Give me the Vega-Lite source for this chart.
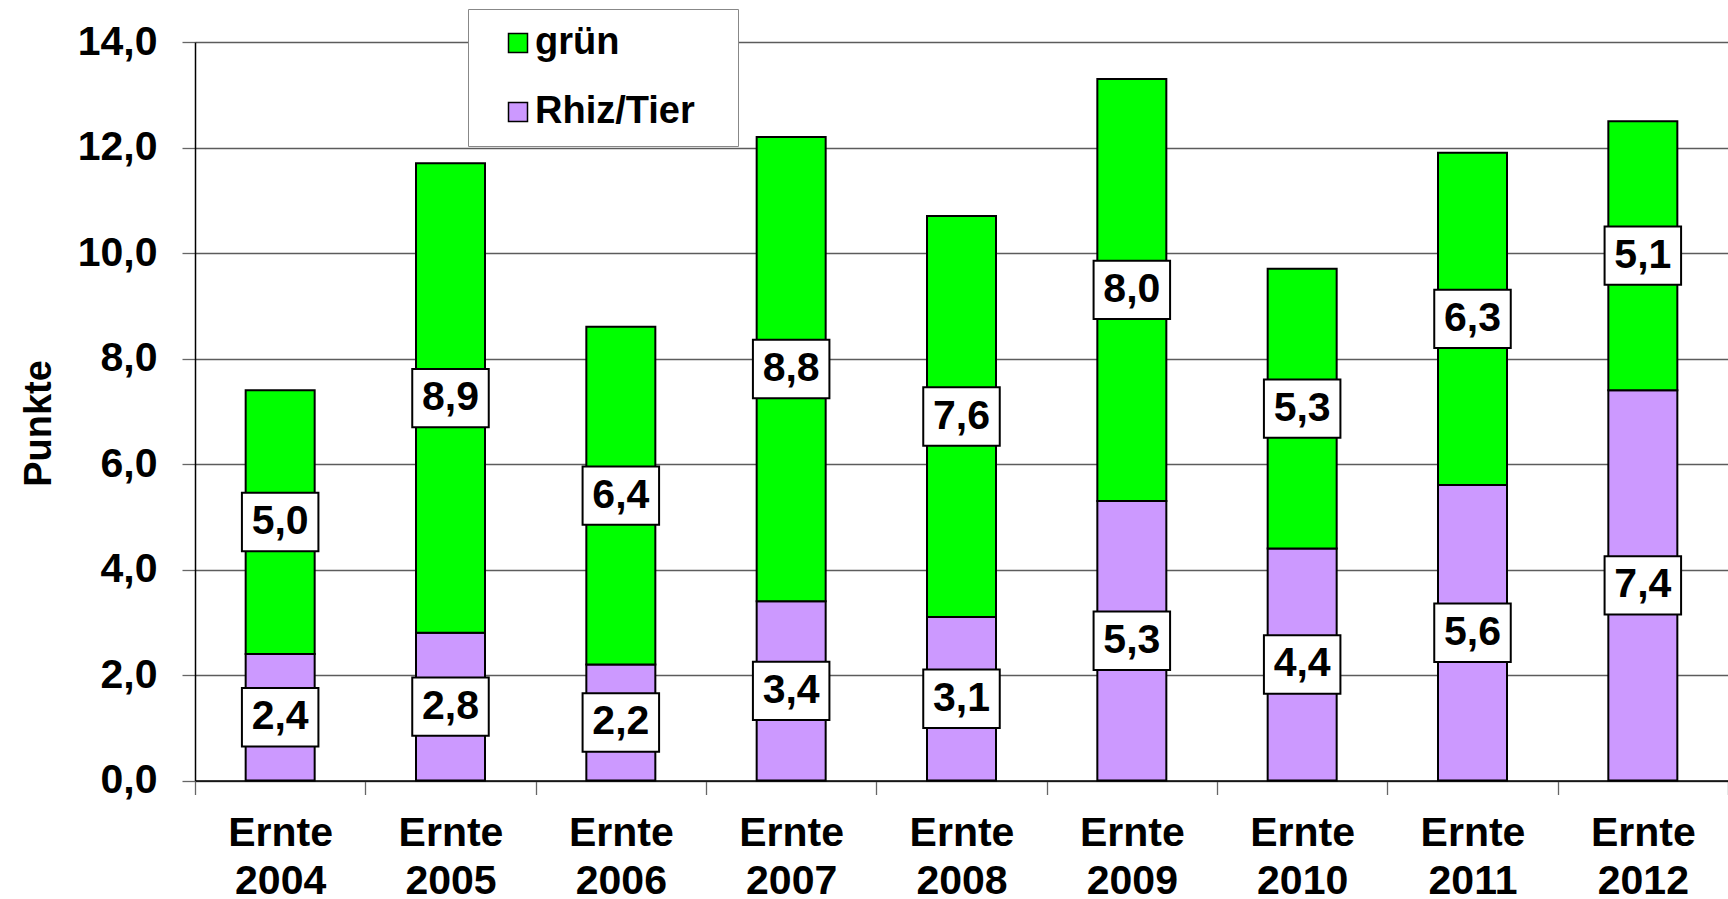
{
  "$schema": "https://vega.github.io/schema/vega-lite/v6.json",
  "width": 1533,
  "height": 738.5,
  "autosize": {"type": "none"},
  "padding": {"left": 195, "top": 42, "right": 0, "bottom": 118.5},
  "background": "white",
  "config": {
    "view": {"stroke": null},
    "font": "Liberation Sans",
    "locale": {"number": {"decimal": ",", "thousands": ".", "grouping": [3], "currency": ["", " €"]}}
  },
  "data": {
    "values": [
      {"year": "Ernte 2004", "series": "Rhiz/Tier", "value": 2.4},
      {"year": "Ernte 2004", "series": "grün", "value": 5.0},
      {"year": "Ernte 2005", "series": "Rhiz/Tier", "value": 2.8},
      {"year": "Ernte 2005", "series": "grün", "value": 8.9},
      {"year": "Ernte 2006", "series": "Rhiz/Tier", "value": 2.2},
      {"year": "Ernte 2006", "series": "grün", "value": 6.4},
      {"year": "Ernte 2007", "series": "Rhiz/Tier", "value": 3.4},
      {"year": "Ernte 2007", "series": "grün", "value": 8.8},
      {"year": "Ernte 2008", "series": "Rhiz/Tier", "value": 3.1},
      {"year": "Ernte 2008", "series": "grün", "value": 7.6},
      {"year": "Ernte 2009", "series": "Rhiz/Tier", "value": 5.3},
      {"year": "Ernte 2009", "series": "grün", "value": 8.0},
      {"year": "Ernte 2010", "series": "Rhiz/Tier", "value": 4.4},
      {"year": "Ernte 2010", "series": "grün", "value": 5.3},
      {"year": "Ernte 2011", "series": "Rhiz/Tier", "value": 5.6},
      {"year": "Ernte 2011", "series": "grün", "value": 6.3},
      {"year": "Ernte 2012", "series": "Rhiz/Tier", "value": 7.4},
      {"year": "Ernte 2012", "series": "grün", "value": 5.1}
    ]
  },
  "transform": [
    {"stack": "value", "groupby": ["year"], "sort": [{"field": "series", "order": "ascending"}], "as": ["y0", "y1"]}
  ],
  "encoding": {
    "x": {
      "field": "year",
      "type": "nominal",
      "sort": null,
      "scale": {"paddingInner": 0, "paddingOuter": 0},
      "axis": {
        "title": null,
        "labelExpr": "split(datum.label, ' ')",
        "labelAngle": 0,
        "tickBand": "extent",
        "tickSize": 14,
        "tickColor": "#666666",
        "tickWidth": 1.3,
        "domainColor": "black",
        "domainWidth": 1.5,
        "labelFontSize": 41,
        "labelFontWeight": "bold",
        "labelColor": "black",
        "labelLineHeight": 48,
        "labelPadding": 19,
        "labelBaseline": "top"
      }
    }
  },
  "layer": [
    {
      "mark": {"type": "bar", "width": 69, "stroke": "black", "strokeWidth": 2},
      "encoding": {
        "y": {
          "field": "y0",
          "type": "quantitative",
          "scale": {"domain": [0, 14]},
          "axis": {
            "title": "Punkte",
            "values": [0, 2, 4, 6, 8, 10, 12, 14],
            "format": ".1f",
            "grid": true,
            "gridColor": "#5c5c5c",
            "gridWidth": 1.3,
            "domainColor": "black",
            "domainWidth": 1.5,
            "tickColor": "#666666",
            "tickWidth": 1.3,
            "tickSize": 13,
            "labelFontSize": 41,
            "labelFontWeight": "bold",
            "labelColor": "black",
            "labelPadding": 25,
            "titleFontSize": 38,
            "titleFontWeight": "bold",
            "titleColor": "black",
            "titleAngle": -90,
            "titleX": -145,
            "titleY": 381,
            "titleBaseline": "alphabetic",
            "titleAlign": "center"
          }
        },
        "y2": {"field": "y1"},
        "color": {
          "field": "series",
          "type": "nominal",
          "scale": {"domain": ["grün", "Rhiz/Tier"], "range": ["#00FF00", "#CC99FF"]},
          "legend": {
            "title": null,
            "orient": "none",
            "legendX": 273,
            "legendY": -33,
            "direction": "vertical",
            "symbolType": "square",
            "symbolSize": 361,
            "symbolStrokeColor": "black",
            "symbolStrokeWidth": 1.5,
            "symbolOffset": 16,
            "labelFontSize": 38,
            "labelFontWeight": "bold",
            "labelColor": "black",
            "labelOffset": -2,
            "labelLimit": 400,
            "rowPadding": 31,
            "padding": 15,
            "strokeColor": "#888888",
            "fillColor": "white",
            "labelExpr": "datum.label + '\u2800'"
          }
        }
      }
    },
    {
      "transform": [{"fold": ["y0", "y1"], "as": ["k", "pos"]}],
      "mark": {"type": "point", "shape": "M-1,-0.763H1V0.763H-1Z", "size": 5852, "filled": true, "fill": "white", "stroke": "black", "strokeWidth": 2, "opacity": 1},
      "encoding": {
        "y": {"aggregate": "mean", "field": "pos", "type": "quantitative"},
        "detail": {"field": "series", "type": "nominal"}
      }
    },
    {
      "transform": [{"fold": ["y0", "y1"], "as": ["k", "pos"]}],
      "mark": {"type": "text", "fontSize": 41, "fontWeight": "bold", "baseline": "middle", "color": "black"},
      "encoding": {
        "y": {"aggregate": "mean", "field": "pos", "type": "quantitative"},
        "text": {"field": "value", "type": "quantitative", "format": ".1f"},
        "detail": {"field": "series", "type": "nominal"}
      }
    }
  ]
}
